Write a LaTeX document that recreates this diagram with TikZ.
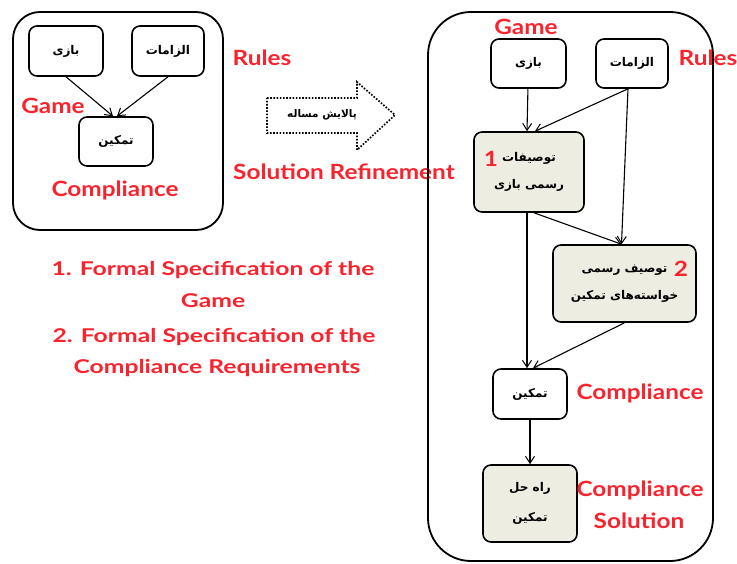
\documentclass[tikz,border=0pt]{standalone}
\usepackage{fontspec}
\newfontfamily\lato{Lato}
\newfontfamily\latowide{Lato}[FakeStretch=1.16]
\newfontfamily\latowider{Lato}[FakeStretch=1.3]
\newfontfamily\arabicfont[Script=Arabic]{DejaVu Sans}
\TeXXeTstate=1
\usetikzlibrary{arrows.meta}
\definecolor{lblred}{RGB}{250,35,45}
\definecolor{specfill}{RGB}{238,237,226}
\tikzset{
  frame/.style={draw, line width=1.8pt},
  box/.style={draw, line width=1.6pt, rounded corners=8pt, align=center,
    font=\arabicfont\bfseries\fontsize{12}{27}\selectfont, inner sep=0pt},
  spec/.style={box, fill=specfill},
  arr/.style={draw, line width=1.1pt, -{Straight Barb[length=7pt,width=9pt,line width=1pt]}},
  lbl/.style={text=lblred, font=\latowide\bfseries\fontsize{21}{24}\selectfont, inner sep=0pt},
  sublbl/.style={text=lblred, font=\latowider\bfseries\fontsize{19}{22}\selectfont, inner sep=0pt},
  refine/.style={draw, line width=1.7pt, dash pattern=on 1.6pt off 1.6pt, line join=miter}
}
\begin{document}
\begin{tikzpicture}[x=1pt,y=-1pt]
\useasboundingbox (0,0) rectangle (737,564);
% left frame
\draw[frame, rounded corners=27pt] (13,12) rectangle (223,230);
\node[box, minimum width=74pt, minimum height=50pt] (lgame) at (66,51) {\beginR بازی\endR};
\node[box, minimum width=72pt, minimum height=50pt] (lrules) at (168,51) {\beginR الزامات\endR};
\node[box, minimum width=74pt, minimum height=49pt] (lcomp) at (116,141.5) {\beginR تمکین\endR};
\draw[arr] (lgame.south) -- ([xshift=-3pt]lcomp.north);
\draw[arr] (lrules.south) -- ([xshift=1pt]lcomp.north);
\node[lbl] (lrulesl) at (262,58) {Rules};
\node[lbl] (lgamel) at (53,106) {Game};
\node[lbl] (lcompl) at (115,190) {Compliance};
% refinement arrow
\draw[refine] (267,98) -- (357,98) -- (357,82) -- (395,115) -- (357,150) -- (357,133) -- (267,133) -- cycle;
\node[font=\arabicfont\bfseries\fontsize{10.5}{12}\selectfont] (refinet) at (322,115) {\beginR پالایش مساله\endR};
\node[lbl] (refl) at (344,172) {Solution Refinement};
% bottom text
\node[sublbl] (t1) at (213,270) {1. Formal Specification of the};
\node[sublbl] (t2) at (213,301) {Game};
\node[sublbl] (t3) at (214,337) {2. Formal Specification of the};
\node[sublbl] (t4) at (217,368) {Compliance Requirements};
% right frame
\draw[frame, rounded corners=43pt] (428,12) rectangle (713,561);
\node[box, minimum width=75pt, minimum height=49pt] (rgame) at (528.5,63.5) {\beginR بازی\endR};
\node[box, minimum width=72pt, minimum height=49pt] (rrules) at (632,63.5) {\beginR الزامات\endR};
\node[spec, minimum width=110pt, minimum height=80pt] (spec1) at (529,172) {\beginR توصیفات\endR\\\beginR رسمی بازی\endR};
\node[spec, minimum width=143pt, minimum height=77pt] (spec2) at (624.5,283.5) {\beginR توصیف رسمی\endR\\\beginR خواسته‌های تمکین\endR};
\node[box, minimum width=74pt, minimum height=50pt] (rcomp) at (530,394) {\beginR تمکین\endR};
\node[spec, minimum width=94pt, minimum height=77pt, font=\arabicfont\bfseries\fontsize{12}{30}\selectfont] (sol) at (530,503.5) {\beginR راه حل\endR\\\beginR تمکین\endR};
\draw[arr] (rgame) -- ([xshift=-2pt]spec1.north);
\draw[arr] ([xshift=-4pt]rrules.south) -- ([xshift=6pt]spec1.north);
\draw[arr] ([xshift=-4pt]rrules.south) -- ([xshift=-3pt]spec2.north);
\draw[arr] ([xshift=5pt]spec1.south) -- ([xshift=-3pt]spec2.north);
\draw[arr] ([xshift=-2pt]spec1.south) -- ([xshift=-3pt]rcomp.north);
\draw[arr] (spec2.south) -- ([xshift=3pt]rcomp.north);
\draw[arr] (rcomp) -- (sol);
\node[lbl] (rgamel) at (526,27) {Game};
\node[lbl] (rrulesl) at (708,58) {Rules};
\node[lbl] (one) at (491,159) {1};
\node[lbl] (two) at (681,269) {2};
\node[lbl] (rcompl) at (640,393) {Compliance};
\node[lbl] (solc) at (640,490) {Compliance};
\node[lbl] (sols) at (639,521) {Solution};
\end{tikzpicture}
\end{document}
